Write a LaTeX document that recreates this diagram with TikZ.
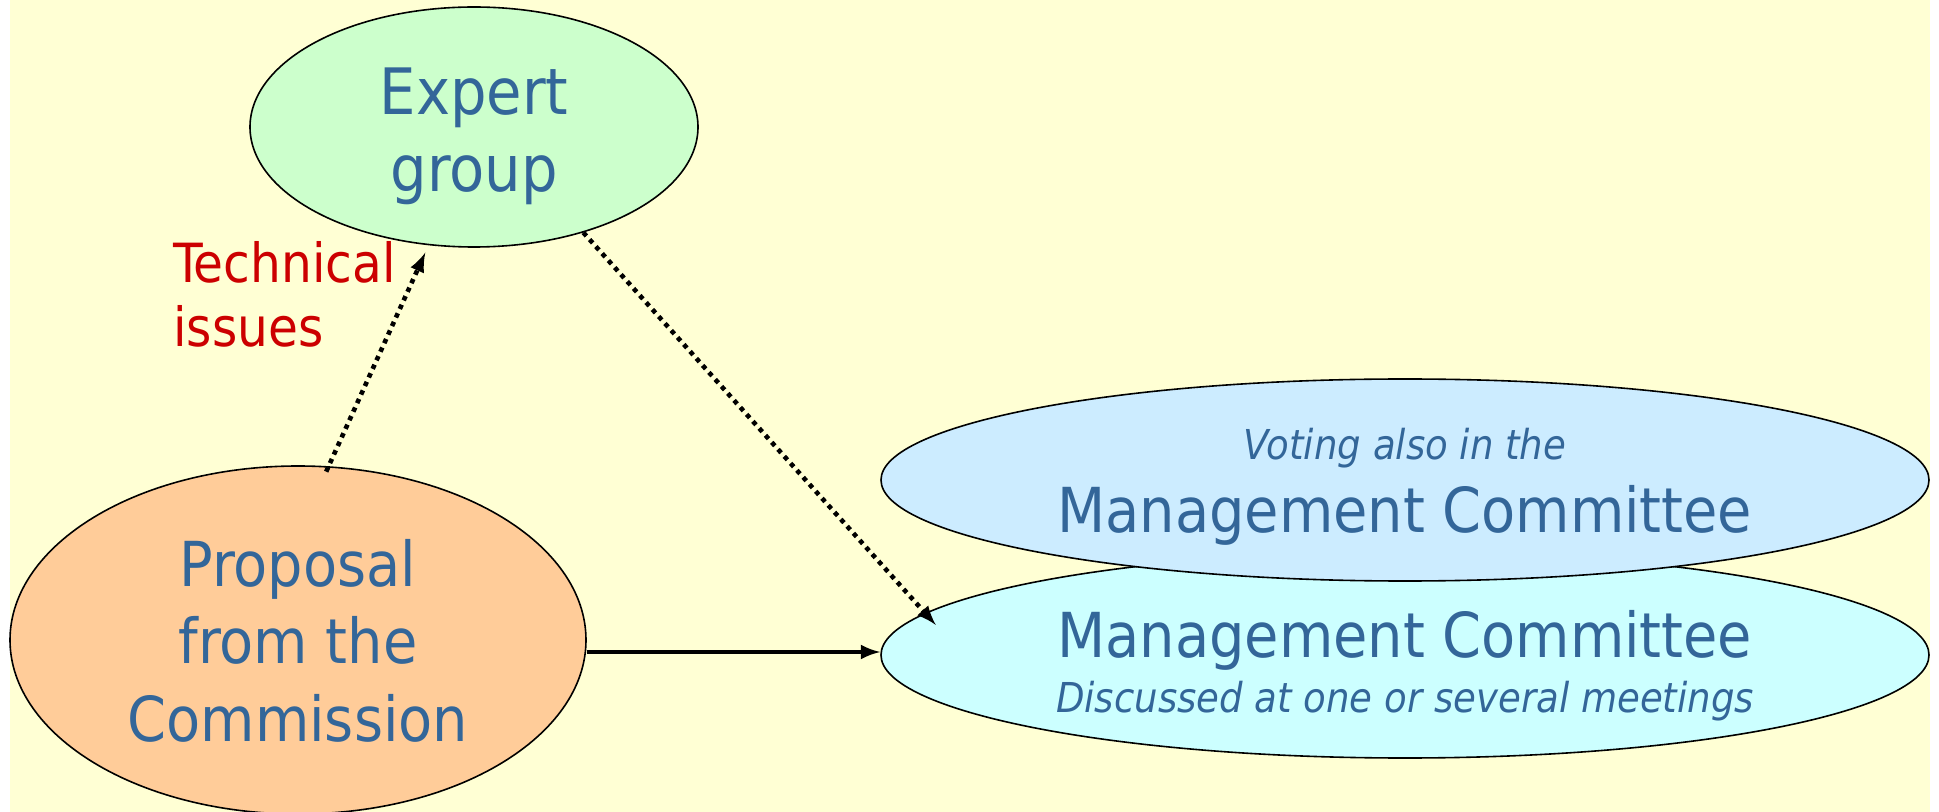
\documentclass[tikz,border=0pt]{standalone}
\usepackage{fontspec}
\setmainfont{DejaVu Sans Condensed}
\usepackage{tikz}
\usetikzlibrary{shapes,arrows}
\definecolor{paper}{HTML}{FFFFD4}
\definecolor{ink}{HTML}{336699}
\definecolor{redink}{HTML}{CC0000}
\definecolor{green}{HTML}{CCFFCC}
\definecolor{peach}{HTML}{FFCC99}
\definecolor{skyblue}{HTML}{CCECFF}
\definecolor{paleblue}{HTML}{CCFFFF}
\tikzstyle{oval} = [ellipse, draw, line width=0.8pt, inner sep=0pt]
\tikzstyle{txt} = [anchor=base, inner sep=0pt, text=ink]
\tikzstyle{dots} = [-latex, line width=2.3pt, dash pattern=on 2.3pt off 2.4pt]

\begin{document}
\begin{tikzpicture}[x=0.5pt, y=-0.5pt]
  \useasboundingbox (0,0) rectangle (1939,812);
  \fill[paper] (10,0) rectangle (1930,812);
  % Place ovals
  \node [oval, fill=green, minimum width=224pt, minimum height=120pt] (expert) at (474,127) {};
  \node [oval, fill=peach, minimum width=288pt, minimum height=174pt] (prop) at (298,640) {};
  \node [oval, fill=paleblue, minimum width=524pt, minimum height=103pt] (mclow) at (1405,655) {};
  \node [oval, fill=skyblue, minimum width=524pt, minimum height=101pt] (mcup) at (1405,480) {};
  % Place texts
  \node [txt, font=\fontsize{32}{36}\selectfont] (expertA) at (474,115) {Expert};
  \node [txt, font=\fontsize{32}{36}\selectfont] (expertB) at (474,192) {group};
  \node [txt, font=\fontsize{31}{36}\selectfont] (propA) at (298,587) {Proposal};
  \node [txt, font=\fontsize{31}{36}\selectfont] (propB) at (298,663) {from the};
  \node [txt, font=\fontsize{31}{36}\selectfont] (propC) at (298,741) {Commission};
  \node [txt, font=\fontsize{20.6}{24}\selectfont\itshape] (mcupA) at (1405,460) {Voting also in the};
  \node [txt, font=\fontsize{31}{36}\selectfont] (mcupB) at (1405,532) {Management Committee};
  \node [txt, font=\fontsize{31}{36}\selectfont] (mclowA) at (1405,657) {Management Committee};
  \node [txt, font=\fontsize{20.6}{24}\selectfont\itshape] (mclowB) at (1405,712) {Discussed at one or several meetings};
  \node [txt, anchor=base west, text=redink, font=\fontsize{27}{32}\selectfont] (techA) at (173,283) {Technical};
  \node [txt, anchor=base west, text=redink, font=\fontsize{27}{32}\selectfont] (techB) at (173,347) {issues};
  % Draw edges
  \draw[dots, shorten <=-3pt, shorten >=4pt] (prop.80) -- (expert.249);
  \draw[dots, shorten >=-8pt] (expert.-44) -- (mclow.175.5);
  \draw[-latex, line width=2.3pt] ([yshift=1.5pt]prop.east |- mclow.west) -- ([yshift=1.5pt]mclow.west);
\end{tikzpicture}
\end{document}
